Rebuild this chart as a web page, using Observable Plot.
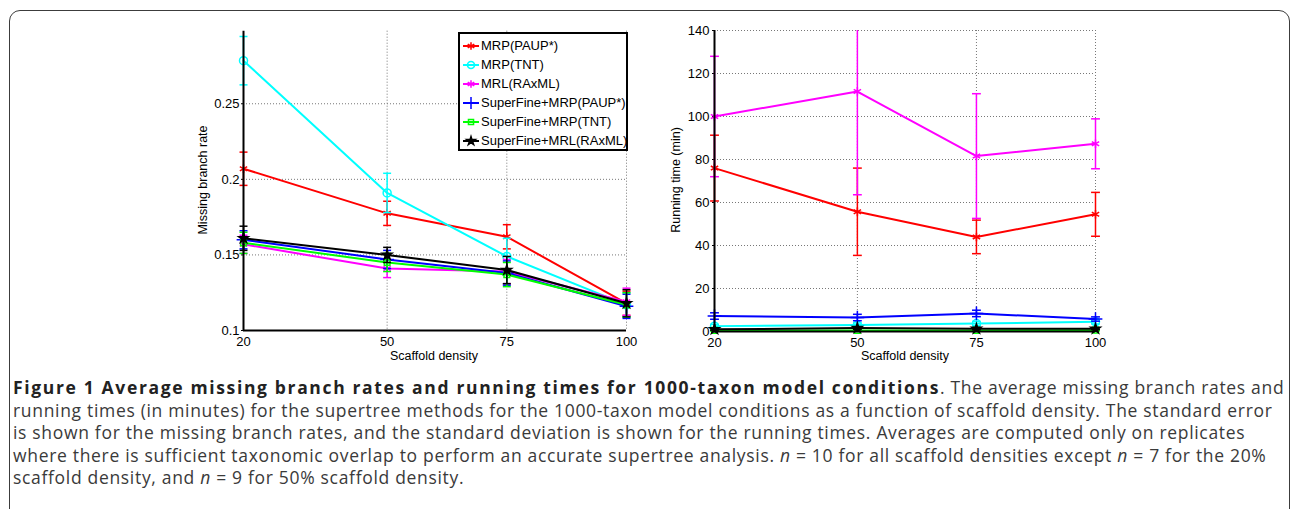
<!DOCTYPE html>
<html><head><meta charset="utf-8">
<script src="https://cdn.jsdelivr.net/npm/d3@7"></script>
<script src="https://cdn.jsdelivr.net/npm/@observablehq/plot@0.6"></script>
<style>
body{margin:0;background:#fff;width:1293px;height:509px;overflow:hidden;position:relative;font-family:"Liberation Sans",Arial,sans-serif;}
#frame{position:absolute;left:9px;top:10px;width:1279px;height:560px;border:1.5px solid #3c3c3c;border-radius:11px;}
#left{position:absolute;left:190px;top:20px;}
#right{position:absolute;left:660px;top:20px;}
#legend{position:absolute;left:458px;top:32px;width:166px;height:113px;border:2px solid #000;background:#fff;box-sizing:content-box;padding-top:2px;}
#legend .row{height:19px;line-height:19px;font-size:13px;white-space:nowrap;display:flex;align-items:center;}
#legend svg{margin-left:2px;margin-right:1px;}
.lab{position:absolute;font-size:12.5px;white-space:nowrap;color:#000;transform:translate(-50%,-50%);}
.lab.rot{transform:translate(-50%,-50%) rotate(-90deg);}
#caption{position:absolute;left:13px;top:376px;font-family:"Open Sans",sans-serif;font-size:17.5px;letter-spacing:0.68px;line-height:22.5px;color:#3a3a3a;white-space:nowrap;}
#caption b{color:#222;letter-spacing:1.65px;}
svg{overflow:visible}
</style></head>
<body>
<div id="frame"></div>
<div id="left"></div>
<div id="right"></div>
<div id="legend"></div>
<div class="lab" style="left:434px;top:356px">Scaffold density</div>
<div class="lab" style="left:905px;top:356px">Scaffold density</div>
<div class="lab rot" style="left:203px;top:180px">Missing branch rate</div>
<div class="lab rot" style="left:676px;top:180px">Running time (min)</div>
<div id="caption"></div>
<script>
// ---- data ----
const densities = [20, 50, 75, 100];
const methods = ["MRP(PAUP*)", "MRP(TNT)", "MRL(RAxML)", "SuperFine+MRP(PAUP*)", "SuperFine+MRP(TNT)", "SuperFine+MRL(RAxML)"];
const colors = ["#ff0000", "#00ffff", "#ff00ff", "#0000ff", "#00ff00", "#000000"];
const symbols = ["asterisk", "circle", "asterisk", "plus", "square", "star"];

// Missing branch rate (mean, standard error)
const mrpPaupMB = [0.207, 0.1775, 0.162, 0.118];
const mrpPaupMBse = [0.011, 0.008, 0.008, 0.008];
const mrpTntMB = [0.2785, 0.191, 0.149, 0.117];
const mrpTntMBse = [0.016, 0.013, 0.012, 0.008];
const mrlMB = [0.157, 0.141, 0.139, 0.119];
const mrlMBse = [0.006, 0.006, 0.008, 0.009];
const sfPaupMB = [0.160, 0.147, 0.138, 0.116];
const sfPaupMBse = [0.006, 0.006, 0.008, 0.008];
const sfTntMB = [0.158, 0.145, 0.137, 0.117];
const sfTntMBse = [0.007, 0.006, 0.008, 0.008];
const sfMrlMB = [0.161, 0.150, 0.140, 0.118];
const sfMrlMBse = [0.008, 0.005, 0.009, 0.009];

// Running time in minutes (mean, standard deviation)
const mrpPaupRT = [76, 55.7, 44, 54.5];
const mrpPaupRTsd = [15.3, 20.3, 7.8, 10.2];
const mrpTntRT = [2.5, 3.0, 3.7, 4.5];
const mrpTntRTsd = [0.8, 1.0, 1.0, 1.0];
const mrlRT = [100, 111.6, 81.6, 87.3];
const mrlRTsd = [28, 48, 29, 11.6];
const sfPaupRT = [7.2, 6.5, 8.4, 5.8];
const sfPaupRTsd = [1.5, 1.5, 1.5, 1.0];
const sfTntRT = [0.5, 0.5, 0.5, 0.6];
const sfTntRTsd = [0.3, 0.3, 0.3, 0.3];
const sfMrlRT = [1.0, 1.6, 1.3, 1.3];
const sfMrlRTsd = [0.4, 0.6, 0.5, 0.4];

const mbTicks = [0.1, 0.15, 0.2, 0.25];
const rtTicks = [0, 20, 40, 60, 80, 100, 120, 140];

const mbSeries = [[mrpPaupMB, mrpPaupMBse], [mrpTntMB, mrpTntMBse], [mrlMB, mrlMBse], [sfPaupMB, sfPaupMBse], [sfTntMB, sfTntMBse], [sfMrlMB, sfMrlMBse]];
const rtSeries = [[mrpPaupRT, mrpPaupRTsd], [mrpTntRT, mrpTntRTsd], [mrlRT, mrlRTsd], [sfPaupRT, sfPaupRTsd], [sfTntRT, sfTntRTsd], [sfMrlRT, sfMrlRTsd]];

function table(series) {
  const rows = [];
  series.forEach(([m, e], i) => densities.forEach((d, j) => rows.push({
    method: methods[i], idx: i, x: d, y: m[j], lo: m[j] - e[j], hi: m[j] + e[j]
  })));
  return rows;
}

const cap = { draw(ctx, size) { const w = Math.sqrt(size) / 2; ctx.moveTo(-w, 0); ctx.lineTo(w, 0); } };
const markerR = [4, 4, 4, 4.5, 3.2, 3];

function seriesMarks(rows, capR, yMax) {
  const marks = [];
  methods.forEach((m, i) => {
    const d = rows.filter(r => r.idx === i);
    const c = colors[i];
    marks.push(Plot.line(d, { x: "x", y: "y", stroke: c, strokeWidth: 2 }));
    marks.push(Plot.ruleX(d, { x: "x", y1: "lo", y2: r => Math.min(r.hi, yMax), stroke: c, strokeWidth: 1.5 }));
    marks.push(Plot.dot(d, { x: "x", y: "lo", symbol: cap, r: capR, stroke: c, strokeWidth: 1.5 }));
    marks.push(Plot.dot(d.filter(r => r.hi <= yMax), { x: "x", y: "hi", symbol: cap, r: capR, stroke: c, strokeWidth: 1.5 }));
    const s = symbols[i];
    const filled = s === "star";
    marks.push(Plot.dot(d, { x: "x", y: "y", symbol: s, r: markerR[i], stroke: c, strokeWidth: 1.5, fill: filled ? c : "none" }));
  });
  return marks;
}

const font = { fontFamily: "'Liberation Sans', Arial, sans-serif", fontSize: "13px", color: "#000", background: "transparent", overflow: "visible" };
const grid = { stroke: "#777", strokeOpacity: 1, strokeDasharray: "1,2", strokeWidth: 1 };

const left = Plot.plot({
  width: 450, height: 350, marginLeft: 53, marginRight: 14, marginTop: 10.7, marginBottom: 40,
  style: font,
  x: { domain: [20, 100], ticks: densities, tickSize: 0, tickPadding: 6, label: null },
  y: { domain: [0.1, 0.298], ticks: mbTicks, tickFormat: d => String(d), tickSize: 2, tickPadding: 2, label: null },
  marks: [
    Plot.gridX(densities.slice(1), grid),
    Plot.gridY(mbTicks.slice(1), grid),
    ...seriesMarks(table(mbSeries), 4.5, 1),
    Plot.ruleX([20], { stroke: "#000", strokeWidth: 2 }),
    Plot.ruleY([0.1], { stroke: "#000", strokeWidth: 2 })
  ]
});
document.getElementById("left").append(left);

const right = Plot.plot({
  width: 450, height: 350, marginLeft: 54, marginRight: 15, marginTop: 10, marginBottom: 39,
  style: font,
  x: { domain: [20, 100], ticks: densities, tickSize: 0, tickPadding: 6, label: null },
  y: { domain: [0, 140], ticks: rtTicks, tickSize: 2, tickPadding: 3, label: null },
  marks: [
    Plot.gridX(densities.slice(1), grid),
    Plot.gridY(rtTicks.slice(1), grid),
    ...seriesMarks(table(rtSeries), 5, 140),
    Plot.ruleX([20], { stroke: "#000", strokeWidth: 2 }),
    Plot.ruleY([0], { stroke: "#000", strokeWidth: 2 })
  ]
});
document.getElementById("right").append(right);

// legend
const symMap = { asterisk: d3.symbolAsterisk, circle: d3.symbolCircle, plus: d3.symbolPlus, square: d3.symbolSquare, star: d3.symbolStar, times: d3.symbolTimes };
const leg = d3.select("#legend");
methods.forEach((m, i) => {
  const row = leg.append("div").attr("class", "row");
  const s = row.append("svg").attr("width", 18).attr("height", 12);
  s.append("line").attr("x1", 1).attr("x2", 17).attr("y1", 6).attr("y2", 6).attr("stroke", colors[i]).attr("stroke-width", 2);
  s.append("path").attr("transform", "translate(9,6)")
    .attr("d", d3.symbol(symMap[symbols[i]], markerR[i] * markerR[i] * Math.PI * 0.8)())
    .attr("stroke", colors[i]).attr("stroke-width", 1.5)
    .attr("fill", symbols[i] === "star" ? colors[i] : "none");
  row.append("span").text(m);
});

// caption
document.getElementById("caption").innerHTML =
  "<b>Figure 1 Average missing branch rates and running times for 1000-taxon model conditions</b>. The average missing branch rates and<br>" +
  "running times (in minutes) for the supertree methods for the 1000-taxon model conditions as a function of scaffold density. The standard error<br>" +
  "is shown for the missing branch rates, and the standard deviation is shown for the running times. Averages are computed only on replicates<br>" +
  "where there is sufficient taxonomic overlap to perform an accurate supertree analysis. <i>n</i> = 10 for all scaffold densities except <i>n</i> = 7 for the 20%<br>" +
  "scaffold density, and <i>n</i> = 9 for 50% scaffold density.";
</script>
</body></html>
